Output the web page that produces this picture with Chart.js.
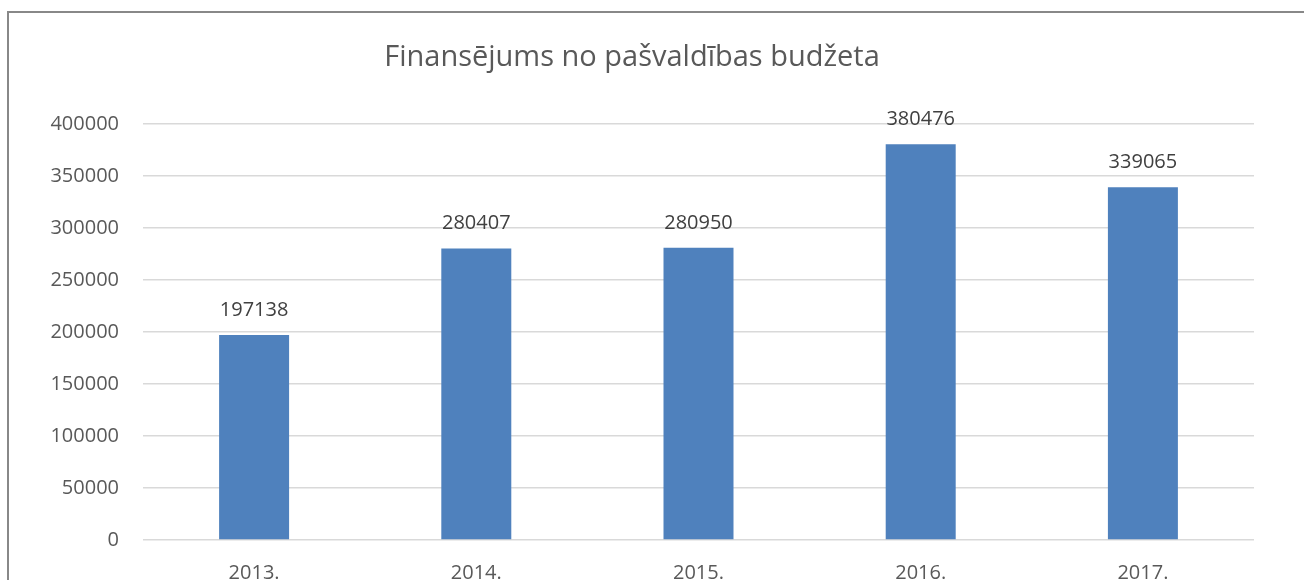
<!DOCTYPE html>
<html>
<head>
<meta charset="utf-8">
<script src="https://cdn.jsdelivr.net/npm/chart.js@4.4.0/dist/chart.umd.min.js"></script>
<style>
  html, body { margin: 0; padding: 0; background: #fff; overflow: hidden; width: 1304px; height: 580px; }
  #frame { position: absolute; left: 7px; top: 11px; width: 1400px; height: 700px;
           border-left: 2px solid #888; border-top: 2px solid #888; }
  #graficaFin { position: absolute; left: 0; top: 0; }
</style>
</head>
<body>
<div id="frame"></div>
<canvas id="graficaFin" width="1264" height="609"></canvas>
<script>
// dati
const gadi = ['2013.', '2014.', '2015.', '2016.', '2017.'];
const finansejums = [197138, 280407, 280950, 380476, 339065];
const yTicks = [0, 50000, 100000, 150000, 200000, 250000, 300000, 350000, 400000];

const fonts = '"Open Sans", "DejaVu Sans", sans-serif';

// vērtības virs stabiņiem
const vertibas = {
    id: 'vertibas',
    afterDatasetsDraw(chart) {
        const ctx = chart.ctx;
        const meta = chart.getDatasetMeta(0);
        ctx.save();
        ctx.font = '20px ' + fonts;
        ctx.fillStyle = '#404040';
        ctx.textAlign = 'center';
        ctx.textBaseline = 'middle';
        meta.data.forEach(function(bar, i) {
            ctx.fillText(String(finansejums[i]), bar.x, bar.y - 25);
        });
        ctx.restore();
    }
};

const ctx = document.getElementById('graficaFin');
const myChart = new Chart(ctx, {
    type: 'bar',
    data: {
        labels: gadi,
        datasets: [{
            label: 'Finansējums',
            data: finansejums,
            backgroundColor: '#4f81bd',
            borderWidth: 0,
            categoryPercentage: 1,
            barPercentage: 0.315
        }]
    },
    options: {
        responsive: false,
        animation: false,
        layout: { padding: { left: 10, right: 10, top: 0, bottom: 3 } },
        plugins: {
            legend: { display: false },
            tooltip: { enabled: false },
            title: {
                display: true,
                text: 'Finansējums no pašvaldības budžeta',
                color: '#595959',
                font: { family: fonts, size: 29, weight: 'normal' },
                padding: { top: 40.6, bottom: 48.6 }
            }
        },
        scales: {
            x: {
                grid: { display: false, drawTicks: false },
                border: { display: false },
                ticks: { color: '#595959', font: { family: fonts, size: 20 }, padding: 21 }
            },
            y: {
                min: 0,
                max: 400000,
                afterFit: function(scale) { scale.width = 133; },
                afterBuildTicks: function(scale) { scale.ticks = yTicks.map(v => ({ value: v })); },
                grid: { color: '#d9d9d9', lineWidth: 1.5, drawTicks: false },
                border: { display: false },
                ticks: {
                    color: '#595959',
                    font: { family: fonts, size: 20 },
                    padding: 24,
                    callback: function(v) { return String(v); }
                }
            }
        }
    },
    plugins: [vertibas]
});
</script>
</body>
</html>
